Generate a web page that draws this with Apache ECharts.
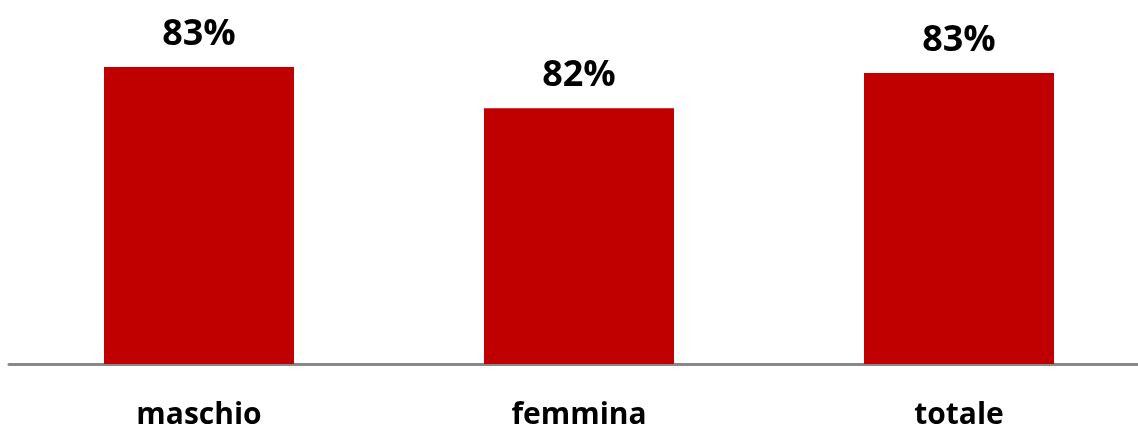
<!DOCTYPE html>
<html lang="it">
<head>
    <meta charset="UTF-8">
    <title>Grafico a barre</title>
    <script src="https://cdn.jsdelivr.net/npm/echarts@6/dist/echarts.min.js"></script>
    <style>
        html, body { margin: 0; padding: 0; background: #fff; }
        #main { width: 1138px; height: 428px; }
    </style>
</head>
<body>
    <div id="main"></div>
<script>
    var categories = ['maschio', 'femmina', 'totale'];
    var values = [83.4, 82.0, 83.2];

    var chart = echarts.init(document.getElementById('main'));

    var option = {
        animation: false,
        grid: {
            left: 9,
            right: -11,
            top: 20,
            bottom: 64,
            outerBoundsMode: 'none'
        },
        xAxis: {
            type: 'category',
            data: categories,
            axisTick: { show: false },
            axisLine: { lineStyle: { color: '#888888', width: 3 } },
            axisLabel: {
                margin: 36,
                color: '#000',
                fontFamily: 'Open Sans',
                fontWeight: 'bold',
                fontSize: 30
            }
        },
        yAxis: {
            type: 'value',
            min: 73.3,
            max: 85,
            show: false,
            splitLine: { show: false }
        },
        series: [
            {
                type: 'bar',
                data: values,
                barWidth: 190,
                itemStyle: { color: '#C00000' },
                label: {
                    show: true,
                    position: 'top',
                    distance: 14,
                    color: '#000',
                    fontFamily: 'Open Sans',
                    fontWeight: 'bold',
                    fontSize: 36,
                    formatter: function (p) {
                        return Math.round(p.value) + '%';
                    }
                }
            }
        ]
    };
    chart.setOption(option);
</script>
</body>
</html>
